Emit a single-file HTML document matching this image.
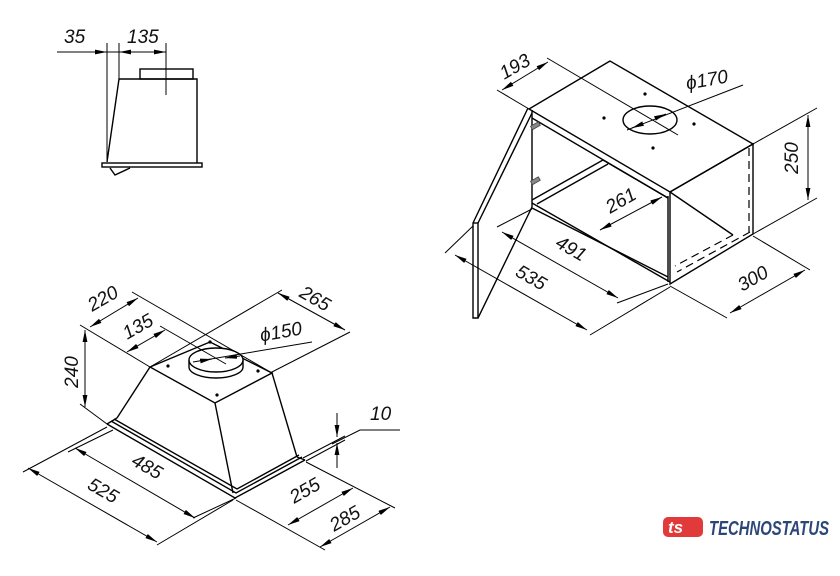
<!DOCTYPE html>
<html><head><meta charset="utf-8"><style>
html,body{margin:0;padding:0;background:#fff;}
svg{display:block}
text{font-family:"Liberation Sans",sans-serif;font-style:italic;font-size:19px;fill:#111}
</style></head><body>
<svg width="840" height="576" viewBox="0 0 840 576" xmlns="http://www.w3.org/2000/svg">
<defs>
<marker id="a" viewBox="0 0 12 6" refX="12" refY="3" markerWidth="12" markerHeight="6" markerUnits="userSpaceOnUse" orient="auto-start-reverse">
<path d="M0,0.6 L12,3 L0,5.4 Z" fill="#000"/></marker>
</defs>
<g fill="none" stroke="#000" stroke-width="1">
<!-- ===== top-left side view ===== -->
<line x1="57" y1="52" x2="107" y2="52" marker-end="url(#a)"/>
<line x1="107" y1="52" x2="119" y2="52"/>
<line x1="119" y1="52" x2="166" y2="52" marker-start="url(#a)" marker-end="url(#a)"/>
<line x1="107" y1="43" x2="107" y2="162"/>
<line x1="119" y1="43" x2="119" y2="79"/>
<line x1="166" y1="43" x2="166" y2="95"/>
<g stroke-width="1.4">
<polyline points="107,162 119,79 197,79 197,163"/>
<rect x="140" y="69" width="53" height="10"/>
<rect x="102" y="163" width="100" height="4"/>
<polyline points="110,168 115,175 130,168"/>
</g>

<!-- ===== left hood ===== -->
<g stroke-width="1.4">
<polygon points="150,367 210,342 272,373 215,403"/>
<line x1="150" y1="367" x2="117" y2="418"/>
<line x1="215" y1="403" x2="233" y2="493"/>
<line x1="272" y1="373" x2="297" y2="457"/>
<polyline points="107,424 235,498 305,460"/>
<polyline points="111,421 236,493 302,457"/>
<polyline points="114,419 237,489 299,455"/>
<line x1="107" y1="424" x2="117" y2="418"/>
<line x1="305" y1="460" x2="297" y2="457"/>
<path d="M189,360 L189,367 A27,11 0 0 0 243,367 L243,360"/>
<ellipse cx="216" cy="360" rx="27" ry="12" fill="#fff"/>
</g>
<g fill="#000" stroke="none">
<circle cx="168" cy="366" r="1.6"/><circle cx="258" cy="371" r="1.6"/><circle cx="217" cy="395" r="1.6"/><circle cx="210" cy="342" r="1.6"/>
</g>
<line x1="80" y1="325" x2="150" y2="367"/>
<line x1="80" y1="404" x2="107" y2="424"/>
<line x1="132" y1="292" x2="272" y2="373"/>
<line x1="282" y1="290" x2="150" y2="367"/>
<line x1="160" y1="326" x2="226" y2="364"/>
<line x1="350" y1="332" x2="270" y2="373"/>
<line x1="85" y1="330" x2="85" y2="407" marker-start="url(#a)" marker-end="url(#a)"/>
<line x1="90" y1="327" x2="138" y2="298" marker-start="url(#a)" marker-end="url(#a)"/>
<line x1="127" y1="352" x2="165" y2="330" marker-start="url(#a)" marker-end="url(#a)"/>
<line x1="278" y1="293" x2="345" y2="330" marker-start="url(#a)" marker-end="url(#a)"/>
<line x1="312" y1="342" x2="193" y2="362"/>
<line x1="200" y1="361" x2="212" y2="359" marker-end="url(#a)"/>
<line x1="240" y1="356" x2="225" y2="358" marker-end="url(#a)"/>
<line x1="107" y1="427" x2="23" y2="472"/>
<line x1="113" y1="430" x2="68" y2="452"/>
<line x1="233" y1="500" x2="157" y2="545"/>
<line x1="236" y1="498" x2="193" y2="518"/>
<line x1="75" y1="448" x2="195" y2="518" marker-start="url(#a)" marker-end="url(#a)"/>
<line x1="28" y1="468" x2="157" y2="542" marker-start="url(#a)" marker-end="url(#a)"/>
<line x1="306" y1="462" x2="395" y2="508"/>
<line x1="236" y1="500" x2="325" y2="550"/>
<line x1="288" y1="525" x2="353" y2="488" marker-start="url(#a)" marker-end="url(#a)"/>
<line x1="320" y1="547" x2="390" y2="507" marker-start="url(#a)" marker-end="url(#a)"/>
<line x1="303" y1="458" x2="345" y2="436"/>
<line x1="306" y1="461" x2="345" y2="440"/>
<line x1="337" y1="413" x2="337" y2="437" marker-end="url(#a)"/>
<line x1="337" y1="468" x2="337" y2="443" marker-end="url(#a)"/>
<polyline points="332,444 360,430 400,430"/>

<!-- ===== right cabinet ===== -->
<g stroke-width="1.4">
<polygon points="610,61 529,109 670,192 753,144"/>
<polygon points="670,192 753,144 753,234 670,284"/>
<line x1="532" y1="110" x2="532" y2="207"/>
<line x1="532" y1="118" x2="668" y2="198"/>
<line x1="668" y1="196" x2="668" y2="282"/>
<line x1="532" y1="203" x2="670" y2="282"/>
<line x1="532" y1="208" x2="668" y2="277"/>
<line x1="532" y1="200" x2="603" y2="160"/>
<line x1="537" y1="204" x2="608" y2="164"/>
<line x1="603" y1="160" x2="668" y2="198"/>
<line x1="670" y1="192" x2="733" y2="235"/>
<polyline points="528,108 473,223 473,318 478,318 532,207"/>
<line x1="532" y1="113" x2="478" y2="223"/>
<line x1="478" y1="223" x2="478" y2="318"/>
<line x1="473" y1="223" x2="478" y2="223"/>
<ellipse cx="650" cy="120" rx="27" ry="14"/>
</g>
<g stroke-dasharray="8,5" stroke-width="1.2">
<line x1="749" y1="148" x2="749" y2="232"/>
<line x1="733" y1="235" x2="675" y2="266"/>
<line x1="750" y1="232" x2="677" y2="272"/>
</g>
<g fill="#888" stroke="#444" stroke-width="0.8">
<rect x="531" y="124" width="9" height="4" transform="rotate(-30 535 126)"/>
<rect x="531" y="179" width="9" height="4" transform="rotate(-30 535 181)"/>
</g>
<g fill="#000" stroke="none">
<circle cx="604" cy="118" r="1.6"/><circle cx="694" cy="124" r="1.6"/><circle cx="653" cy="148" r="1.6"/><circle cx="645" cy="94" r="1.6"/>
</g>
<line x1="529" y1="109" x2="497" y2="90"/>
<line x1="547" y1="58" x2="678" y2="135"/>
<line x1="502" y1="90" x2="548" y2="62" marker-start="url(#a)" marker-end="url(#a)"/>
<line x1="743" y1="85" x2="627" y2="130"/>
<line x1="632" y1="128" x2="642" y2="124" marker-start="url(#a)"/>
<line x1="666" y1="114" x2="656" y2="118" marker-start="url(#a)"/>
<line x1="753" y1="144" x2="817" y2="108"/>
<line x1="753" y1="234" x2="817" y2="198"/>
<line x1="808" y1="115" x2="808" y2="200" marker-start="url(#a)" marker-end="url(#a)"/>
<line x1="753" y1="236" x2="810" y2="270"/>
<line x1="670" y1="286" x2="727" y2="318"/>
<line x1="730" y1="313" x2="805" y2="270" marker-start="url(#a)" marker-end="url(#a)"/>
<line x1="473" y1="226" x2="445" y2="253"/>
<line x1="670" y1="287" x2="590" y2="335"/>
<line x1="455" y1="255" x2="587" y2="330" marker-start="url(#a)" marker-end="url(#a)"/>
<line x1="532" y1="209" x2="497" y2="227"/>
<line x1="668" y1="284" x2="617" y2="303"/>
<line x1="502" y1="232" x2="618" y2="298" marker-start="url(#a)" marker-end="url(#a)"/>
<line x1="600" y1="230" x2="662" y2="197" marker-start="url(#a)" marker-end="url(#a)"/>
</g>

<text x="64" y="43">35</text>
<text x="127" y="43">135</text>
<text transform="translate(78,372) rotate(-90)" text-anchor="middle">240</text>
<text transform="translate(106,304) rotate(-30)" text-anchor="middle">220</text>
<text transform="translate(141,332) rotate(-30)" text-anchor="middle">135</text>
<text transform="translate(312,304) rotate(30)" text-anchor="middle">265</text>
<text transform="translate(282,338) rotate(-10)" text-anchor="middle">ϕ150</text>
<text x="370" y="420">10</text>
<text transform="translate(144,472) rotate(30)" text-anchor="middle">485</text>
<text transform="translate(100,496) rotate(30)" text-anchor="middle">525</text>
<text transform="translate(308,496) rotate(-30)" text-anchor="middle">255</text>
<text transform="translate(348,524) rotate(-30)" text-anchor="middle">285</text>
<text transform="translate(518,72) rotate(-30)" text-anchor="middle">193</text>
<text transform="translate(708,86) rotate(-10)" text-anchor="middle">ϕ170</text>
<text transform="translate(798,158) rotate(-90)" text-anchor="middle">250</text>
<text transform="translate(756,284) rotate(-30)" text-anchor="middle">300</text>
<text transform="translate(568,254) rotate(30)" text-anchor="middle">491</text>
<text transform="translate(528,283) rotate(30)" text-anchor="middle">535</text>
<text transform="translate(624,206) rotate(-30)" text-anchor="middle">261</text>

<g>
<rect x="663" y="517" width="40" height="20" rx="5" fill="#e03a3a"/>
<text x="668" y="533" style="font-style:italic;font-weight:bold;font-size:17px;fill:#fff">ts</text>
<text x="709" y="535" style="font-style:italic;font-weight:bold;font-size:20px;fill:#2c4677" textLength="120" lengthAdjust="spacingAndGlyphs">TECHNOSTATUS</text>
</g>
</svg>
</body></html>
